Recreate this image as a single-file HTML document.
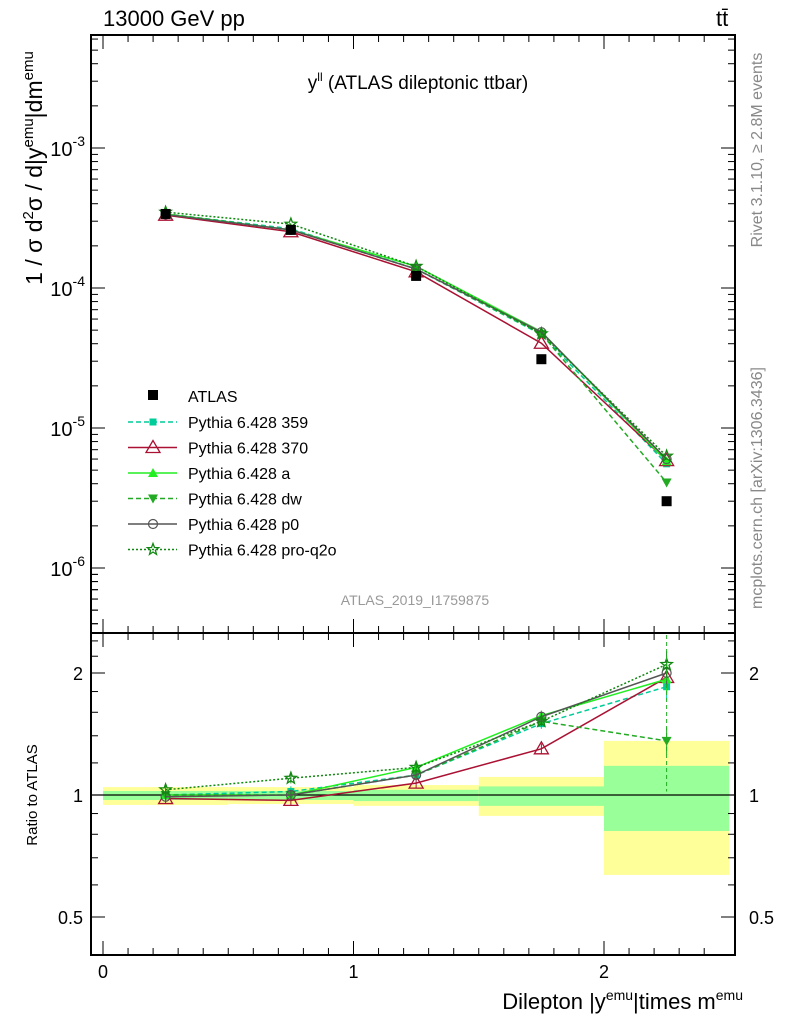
<!DOCTYPE html>
<html><head><meta charset="utf-8"><style>
body{margin:0;background:#fff;}
svg{font-family:"Liberation Sans",sans-serif;}
</style></head><body>
<svg id="c" width="786" height="1024" viewBox="0 0 786 1024" xmlns="http://www.w3.org/2000/svg">
<rect width="786" height="1024" fill="#fff"/>
<text x="103" y="26" font-size="22">13000 GeV pp</text>
<text x="716" y="26" font-size="22">tt̄</text>
<text x="418" y="89" font-size="19" text-anchor="middle">y<tspan font-size="12" dy="-8">ll</tspan><tspan dy="8"> (ATLAS dileptonic ttbar)</tspan></text>
<text x="415" y="605" font-size="14" fill="#999" text-anchor="middle">ATLAS_2019_I1759875</text>
<text transform="translate(762,150) rotate(-90)" font-size="16" fill="#888" text-anchor="middle">Rivet 3.1.10, ≥ 2.8M events</text>
<text transform="translate(762,488) rotate(-90)" font-size="16" fill="#888" text-anchor="middle">mcplots.cern.ch [arXiv:1306.3436]</text>
<text transform="translate(42,168) rotate(-90)" font-size="23" text-anchor="middle">1 / σ  d<tspan font-size="15" dy="-9">2</tspan><tspan dy="9">σ / d|y</tspan><tspan font-size="15" dy="-9">emu</tspan><tspan dy="9">|dm</tspan><tspan font-size="15" dy="-9">emu</tspan></text>
<text transform="translate(37,795) rotate(-90)" font-size="15" text-anchor="middle">Ratio to ATLAS</text>
<text x="743" y="1009" font-size="22" text-anchor="end">Dilepton |y<tspan font-size="14" dy="-9">emu</tspan><tspan dy="9">|times m</tspan><tspan font-size="14" dy="-9">emu</tspan></text>
<g id="g"></g>
</svg>
<script>
const xCenters=[0.25,0.75,1.25,1.75,2.25];
const binEdges=[0,0.5,1,1.5,2,2.5];
const atlas=[3.38e-4,2.6e-4,1.22e-4,3.1e-5,3.0e-6];
const yellowHi=[1.046,1.046,1.058,1.108,1.36];
const yellowLo=[0.945,0.95,0.94,0.888,0.635];
const greenHi=[1.023,1.023,1.03,1.05,1.18];
const greenLo=[0.972,0.972,0.966,0.94,0.815];
const r359=[1.0,1.02,1.12,1.5,1.85];
const r370=[0.98,0.97,1.07,1.3,1.95];
const rA=[1.0,1.0,1.17,1.57,1.93];
const rDW=[1.0,1.0,1.12,1.52,1.36];
const rP0=[0.99,1.0,1.12,1.56,2.0];
const rQ2O=[1.03,1.1,1.17,1.52,2.1];
const mainTicks=[-3,-4,-5,-6];
const ratioTicks=[0.5,1,2];
const xTicks=[0,1,2];

const NS='http://www.w3.org/2000/svg';
const g=document.getElementById('g');
function el(t,a,p){const e=document.createElementNS(NS,t);for(const k in a)e.setAttribute(k,a[k]);(p||g).appendChild(e);return e;}
const L=91,R=735,T1=35,B1=633,B2=955;
const X=v=>103+(v)*250.5;
const Ym=v=>148-(Math.log10(v)+3)*140;
const Yr=v=>795-Math.log2(v)*122;

for(let i=0;i<5;i++){
 const x0=X(binEdges[i]),x1=X(binEdges[i+1]);
 const y=el('rect',{x:x0,y:Yr(yellowHi[i]),width:x1-x0,height:Yr(yellowLo[i])-Yr(yellowHi[i]),fill:'#ffff99'});
 
 
 const gg=el('rect',{x:x0,y:Yr(greenHi[i]),width:x1-x0,height:Yr(greenLo[i])-Yr(greenHi[i]),fill:'#99ff99'});
 
 
}
el('line',{x1:L,x2:R,y1:Yr(1),y2:Yr(1),stroke:'#000','stroke-width':1.2});

el('rect',{x:L,y:T1,width:R-L,height:B1-T1,fill:'none',stroke:'#000','stroke-width':2});
el('rect',{x:L,y:B1,width:R-L,height:B2-B1,fill:'none',stroke:'#000','stroke-width':2});

mainTicks.forEach(p=>{
 const y=Ym(Math.pow(10,p));
 el('line',{x1:L,x2:L+14,y1:y,y2:y,stroke:'#000'});el('line',{x1:R,x2:R-14,y1:y,y2:y,stroke:'#000'});
 const t=el('text',{x:L-6,y:y+8,'font-size':20,'text-anchor':'end'});
 
 
 t.innerHTML='10<tspan font-size="14" dy="-10">'+p+'</tspan>';
 for(let d=2;d<10;d++){const yy=Ym(d*Math.pow(10,p-1));if(yy>T1&&yy<B1){el('line',{x1:L,x2:L+7,y1:yy,y2:yy,stroke:'#000'});el('line',{x1:R,x2:R-7,y1:yy,y2:yy,stroke:'#000'});}}
});
for(let d=2;d<10;d++){const yy=Ym(d*1e-3);if(yy>T1){el('line',{x1:L,x2:L+7,y1:yy,y2:yy,stroke:'#000'});el('line',{x1:R,x2:R-7,y1:yy,y2:yy,stroke:'#000'});}}
for(let d=2;d<10;d++){const yy=Ym(d*1e-7);if(yy<B1){el('line',{x1:L,x2:L+7,y1:yy,y2:yy,stroke:'#000'});el('line',{x1:R,x2:R-7,y1:yy,y2:yy,stroke:'#000'});}}
ratioTicks.forEach(v=>{
 const y=Yr(v);
 el('line',{x1:L,x2:L+14,y1:y,y2:y,stroke:'#000'});el('line',{x1:R,x2:R-14,y1:y,y2:y,stroke:'#000'});
 const t=el('text',{x:L-8,y:y+7,'font-size':18,'text-anchor':'end'});t.textContent=v;
 
 
 const t2=el('text',{x:R+14,y:y+7,'font-size':18});t2.textContent=v;
 
 
});
[0.6,0.7,0.8,0.9,1.2,1.4,1.6,1.8,2.2,2.4].forEach(v=>{const y=Yr(v);el('line',{x1:L,x2:L+7,y1:y,y2:y,stroke:'#000'});el('line',{x1:R,x2:R-7,y1:y,y2:y,stroke:'#000'});});
for(let v=0;v<=2.5;v+=0.1){const x=X(v);if(x<L||x>R)continue;const big=Math.abs(v-Math.round(v))<1e-6;const h=big?14:7;
 [[T1,1],[B1,-1],[B1,1],[B2,-1]].forEach(([y,s])=>el('line',{x1:x,x2:x,y1:y,y2:y+s*h,stroke:'#000'}));}
xTicks.forEach(v=>{const t=el('text',{x:X(v),y:978,'font-size':18,'text-anchor':'middle'});t.textContent=v;
 
 });

function marker(type,x,y,col,grp){
 if(type==='sq')el('rect',{x:x-3.5,y:y-3.5,width:7,height:7,fill:col},grp);
 else if(type==='tri-open')el('polygon',{points:`${x},${y-7} ${x-7},${y+5} ${x+7},${y+5}`,fill:'none',stroke:col,'stroke-width':1.3},grp);
 else if(type==='tri')el('polygon',{points:`${x},${y-5} ${x-5},${y+4} ${x+5},${y+4}`,fill:col},grp);
 else if(type==='tri-down')el('polygon',{points:`${x},${y+5} ${x-5},${y-4} ${x+5},${y-4}`,fill:col},grp);
 else if(type==='circ')el('circle',{cx:x,cy:y,r:4.5,fill:'none',stroke:col,'stroke-width':1.2},grp);
 else if(type==='star'){let p=[];for(let k=0;k<10;k++){const r=k%2?2.5:6,a=-Math.PI/2+k*Math.PI/5;p.push((x+r*Math.cos(a)).toFixed(1)+','+(y+r*Math.sin(a)).toFixed(1));}el('polygon',{points:p.join(' '),fill:'none',stroke:col,'stroke-width':1.3},grp);}
}
const series=[
 {n:'pythia-359',lab:'Pythia 6.428 359',r:r359,col:'#00cc99',dash:'5,3',m:'sq'},
 {n:'pythia-370',lab:'Pythia 6.428 370',r:r370,col:'#aa1133',dash:'',m:'tri-open'},
 {n:'pythia-a',lab:'Pythia 6.428 a',r:rA,col:'#22ee22',dash:'',m:'tri'},
 {n:'pythia-dw',lab:'Pythia 6.428 dw',r:rDW,col:'#22aa22',dash:'5,3',m:'tri-down'},
 {n:'pythia-p0',lab:'Pythia 6.428 p0',r:rP0,col:'#555555',dash:'',m:'circ'},
 {n:'pythia-pro-q2o',lab:'Pythia 6.428 pro-q2o',r:rQ2O,col:'#118811',dash:'2,2',m:'star'}
];
series.forEach(s=>{
 const grp=el('g',{});
 
 
 const pm=s.r.map((v,i)=>X(xCenters[i])+','+Ym(v*atlas[i]));
 el('polyline',{points:pm.join(' '),fill:'none',stroke:s.col,'stroke-width':1.5,'stroke-dasharray':s.dash},grp);
 const pr=s.r.map((v,i)=>X(xCenters[i])+','+Yr(v));
 el('polyline',{points:pr.join(' '),fill:'none',stroke:s.col,'stroke-width':1.5,'stroke-dasharray':s.dash},grp);
 s.r.forEach((v,i)=>{marker(s.m,X(xCenters[i]),Ym(v*atlas[i]),s.col,grp);marker(s.m,X(xCenters[i]),Yr(v),s.col,grp);
   el('line',{x1:X(xCenters[i]),x2:X(xCenters[i]),y1:Yr(v*(i==4?1.08:1.03)),y2:Yr(v/(i==4?1.08:1.03)),stroke:s.col},grp);});
});
el('line',{x1:X(2.25),x2:X(2.25),y1:B1+2,y2:Yr(1.02),stroke:'#22aa22','stroke-dasharray':'4,3'});
atlas.forEach((v,i)=>{const r=el('rect',{x:X(xCenters[i])-5,y:Ym(v)-5,width:10,height:10,fill:'#000'});
 
 });

const lg=el('g',{});


el('rect',{x:148,y:390,width:10,height:10,fill:'#000'},lg);
let t=el('text',{x:188,y:402,'font-size':16},lg);t.textContent='ATLAS';
series.forEach((s,k)=>{
 const y=422+k*25.5;
 el('line',{x1:128,x2:177,y1:y,y2:y,stroke:s.col,'stroke-width':1.5,'stroke-dasharray':s.dash},lg);
 marker(s.m,153,y,s.col,lg);
 const tt=el('text',{x:188,y:y+6,'font-size':16},lg);tt.textContent=s.lab;
 
 
});
</script>
</body></html>
